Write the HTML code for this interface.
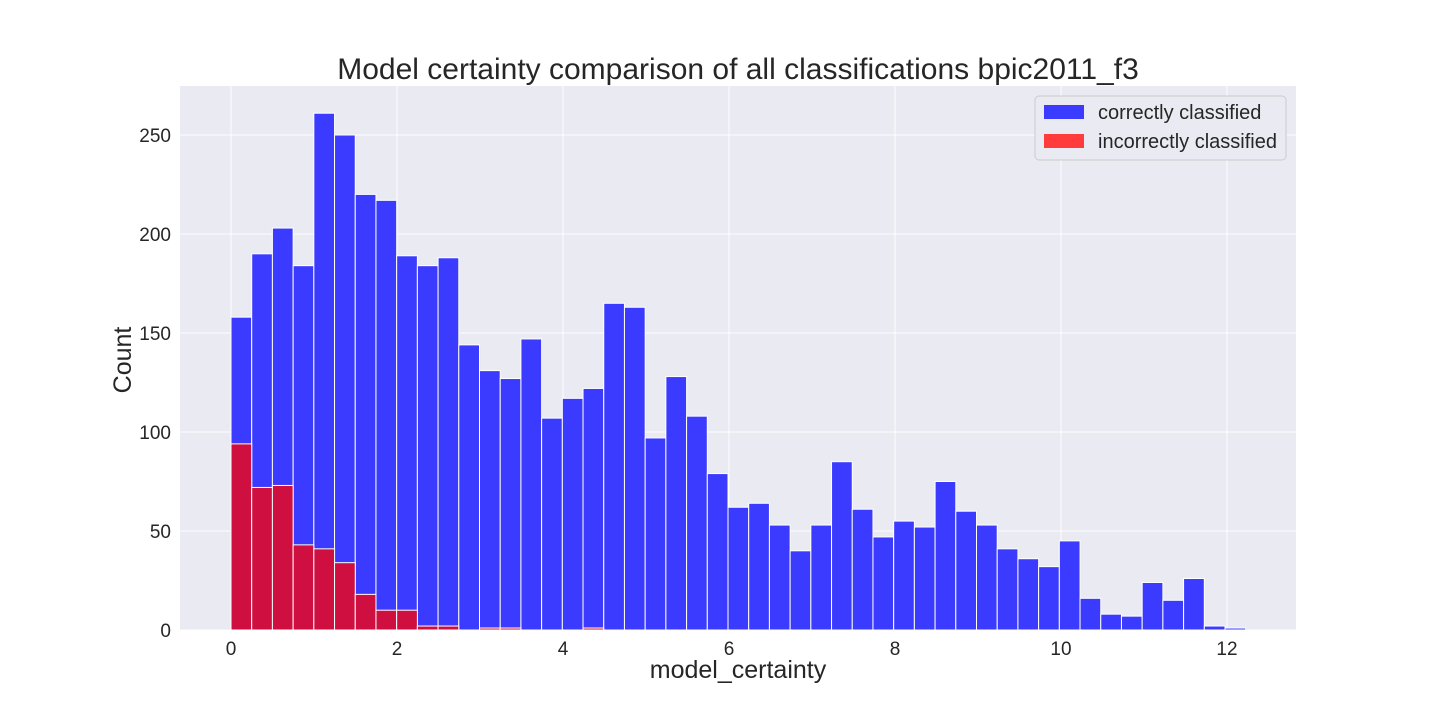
<!DOCTYPE html>
<html><head><meta charset="utf-8">
<style>
body{margin:0;background:#fff;width:1440px;height:720px;overflow:hidden;font-family:"Liberation Sans",Arial,sans-serif;}
svg text{font-family:"Liberation Sans",Arial,sans-serif;fill:#262626;}
</style></head>
<body>
<svg id="chart" width="1440" height="720">
<rect x="180" y="86" width="1116" height="544" fill="#eaeaf2"/>
<g id="grid"></g>
<g id="bars"></g>
<g id="ticks"></g>
<text x="738" y="79" font-size="30" text-anchor="middle">Model certainty comparison of all classifications bpic2011_f3</text>
<text x="738" y="678" font-size="25" text-anchor="middle">model_certainty</text>
<text x="131" y="360" font-size="25" text-anchor="middle" transform="rotate(-90 131 360)">Count</text>
<g>
<rect x="1035" y="96" width="251" height="64" rx="4" fill="#eaeaf2" stroke="#cccccc" stroke-width="1"/>
<rect x="1044" y="105" width="40" height="14" fill="#3b3bff"/>
<text x="1098" y="119" font-size="20">correctly classified</text>
<rect x="1044" y="134" width="40" height="14" fill="#ff3b3b"/>
<text x="1098" y="148" font-size="20">incorrectly classified</text>
</g>
</svg>
<script>
const binWidth = 0.2495;
const correctCounts = [158,190,203,184,261,250,220,217,189,184,188,144,131,127,147,107,117,122,165,163,97,128,108,79,62,64,53,40,53,85,61,47,55,52,75,60,53,41,36,32,45,16,8,7,24,15,26,2,1];
const incorrectCounts = [94,72,73,43,41,34,18,10,10,2,2,0,1,1,0,0,0,1,0,0,0,0,0,0,0,0,0,0,0,0,0,0,0,0,0,0,0,0,0,0,0,0,0,0,0,0,0,0,0];
const xTicks = [0,2,4,6,8,10,12];
const yTicks = [0,50,100,150,200,250];

const NS = "http://www.w3.org/2000/svg";
const xs = v => 231 + v * 83;
const ys = v => 630 - v * 1.98;
const grid = document.getElementById('grid');
const bars = document.getElementById('bars');
const ticks = document.getElementById('ticks');
function mk(tag, attrs, parent){const e=document.createElementNS(NS,tag);for(const k in attrs)e.setAttribute(k,attrs[k]);parent.appendChild(e);return e;}

xTicks.forEach(t=>{
  const l=mk('line',{x1:xs(t),x2:xs(t),y1:86,y2:630,stroke:'#fff','stroke-width':1},grid);
  
  
  const tx=mk('text',{x:xs(t),y:655,'font-size':19,'text-anchor':'middle'},ticks);
  tx.textContent=t;
  
  
});
yTicks.forEach(t=>{
  const l=mk('line',{x1:180,x2:1296,y1:ys(t),y2:ys(t),stroke:'#fff','stroke-width':1},grid);
  
  
  const tx=mk('text',{x:171,y:ys(t)+7,'font-size':19,'text-anchor':'end'},ticks);
  tx.textContent=t;
  
  
});
correctCounts.forEach((c,i)=>{
  const x0=xs(i*binWidth), x1=xs((i+1)*binWidth);
  const r=mk('rect',{x:x0,y:ys(c),width:x1-x0,height:ys(0)-ys(c),fill:'#3b3bff',stroke:'#fff','stroke-width':1},bars);
  
  
});
incorrectCounts.forEach((c,i)=>{
  if(c<=0) return;
  const x0=xs(i*binWidth), x1=xs((i+1)*binWidth);
  const r=mk('rect',{x:x0,y:ys(c),width:x1-x0,height:ys(0)-ys(c),fill:'#cf0f3f',stroke:'#fff','stroke-width':1},bars);
  
  
});
</script>
</body></html>
